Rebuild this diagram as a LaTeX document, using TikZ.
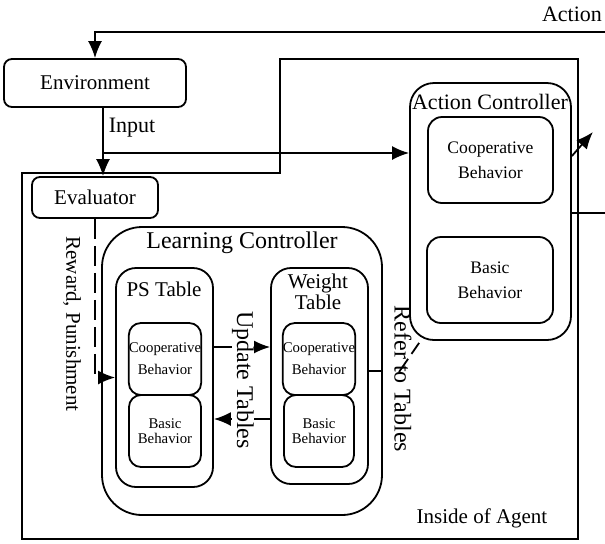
\documentclass[tikz,border=0pt]{standalone}
\usepackage{fontspec}
\setmainfont{Liberation Serif}
\usetikzlibrary{arrows.meta}
\begin{document}
\begin{tikzpicture}[
            x=0.5pt, y=-0.5pt,
            line/.style={line width=0.9pt},
            arr/.style={line, -{Latex[length=8.5pt,width=7pt]}},
            box/.style={draw, line width=0.9pt, inner sep=0pt, rounded corners=#1},
            box/.default=4pt,
            lbl/.style={font=\fontsize{10.5}{12}\selectfont, inner sep=0pt},
            big/.style={font=\fontsize{12}{13}\selectfont, inner sep=0pt},
            mid/.style={font=\fontsize{8.8}{12.5}\selectfont, align=center},
            small/.style={font=\fontsize{7.4}{10}\selectfont, align=center}
                           ]
            \useasboundingbox (0,0) rectangle (605,543);

            % 1. Boundary of the agent
            \draw[line] (22,173) -- (280,173) -- (280,59) -- (578,59) -- (578,539) -- (22,539) -- cycle;
            \node[lbl] (agent_lbl) at (482,518) {Inside of Agent};

            % 2. Environment and evaluator
            \node[box, minimum width=91pt, minimum height=24pt, lbl] (env) at (95,83) {Environment};
            \node[box, minimum width=63pt, minimum height=20.5pt, lbl] (eval) at (95,197.5) {Evaluator};

            % 3. Action controller
            \node[box=12pt, minimum width=80.5pt, minimum height=128.5pt] (ac) at (490.5,211.5) {};
            \node[lbl, font=\fontsize{11}{12}\selectfont] (ac_title) at (490,102) {Action Controller};
            \node[box=7pt, minimum width=62.5pt, minimum height=43pt, mid] (ac_coop) at (490.5,160) {Cooperative\\Behavior};
            \node[box=7pt, minimum width=63pt, minimum height=43pt, mid] (ac_basic) at (490,280) {Basic\\Behavior};

            % 4. Learning controller with its two tables
            \node[box=20pt, minimum width=140pt, minimum height=144pt] (lc) at (242,371) {};
            \node[lbl, font=\fontsize{12}{13}\selectfont] (lc_title) at (242,243) {Learning Controller};

            \node[box=10pt, minimum width=48.5pt, minimum height=109.5pt] (ps) at (164.5,377.5) {};
            \node[lbl] (ps_title) at (164,289) {PS Table};
            \node[box=6pt, minimum width=36pt, minimum height=36pt, small, font=\fontsize{7.4}{11}\selectfont] (ps_coop) at (165,359) {Cooperative\\Behavior};
            \node[box=6pt, minimum width=36pt, minimum height=36pt, small, font=\fontsize{7.4}{7.6}\selectfont] (ps_basic) at (165,431) {Basic\\Behavior};

            \node[box=10pt, minimum width=48.5pt, minimum height=108pt] (wt) at (319.5,376) {};
            \node[lbl, align=center, font=\fontsize{10.5}{9}\selectfont] (wt_title) at (318,292) {Weight\\Table};
            \node[box=6pt, minimum width=35pt, minimum height=36pt, small, font=\fontsize{7.4}{11}\selectfont] (wt_coop) at (319,359) {Cooperative\\Behavior};
            \node[box=6pt, minimum width=35pt, minimum height=36pt, small, font=\fontsize{7.4}{7.6}\selectfont] (wt_basic) at (319,431) {Basic\\Behavior};

            % 5. Action output and input signal
            \coordinate (act_in) at (605,32);
            \draw[arr] (act_in) -| (env.north);
            \node[lbl, font=\fontsize{11}{12}\selectfont] (act_lbl) at (572,14) {Action};

            \draw[arr] ([xshift=4pt]env.south) -- ([xshift=4pt]eval.north);
            \coordinate (split) at (103,153);
            \draw[arr] (split) -- (split -| ac.west);
            \node[lbl, font=\fontsize{11}{12}\selectfont] (in_lbl) at (132,128) {Input};

            \draw[arr] (ac.east |- 0,156) -- ++(21,-24);
            \draw[line] (ac.east |- 0,213) -- ++(34,0);

            % 6. Reward from the evaluator
            \draw[arr, dash pattern=on 10pt off 3.5pt] (eval.south) |- (ps.west);
            \node[lbl, rotate=-90] (rew_lbl) at (72,324) {Reward, Punishment};

            % 7. Table updates and references
            \draw[arr] (ps.east |- 0,347) -- (wt.west |- 0,347);
            \draw[arr] (wt.west |- 0,419) -- (ps.east |- 0,419);
            \node[big, rotate=-90, fill=white] (upd_lbl) at (243,380) {Update Tables};

            \draw[line] (wt.east |- 0,371) -- (lc.east |- 0,371);
            \coordinate (refer) at (399,372);
            \draw[line, dash pattern=on 8pt off 3pt] (refer) -- ([xshift=5pt,yshift=-1pt]ac.south west);
            \node[big, rotate=-90] (ref_lbl) at (403,379) {Refer to Tables};

        \end{tikzpicture}
\end{document}
